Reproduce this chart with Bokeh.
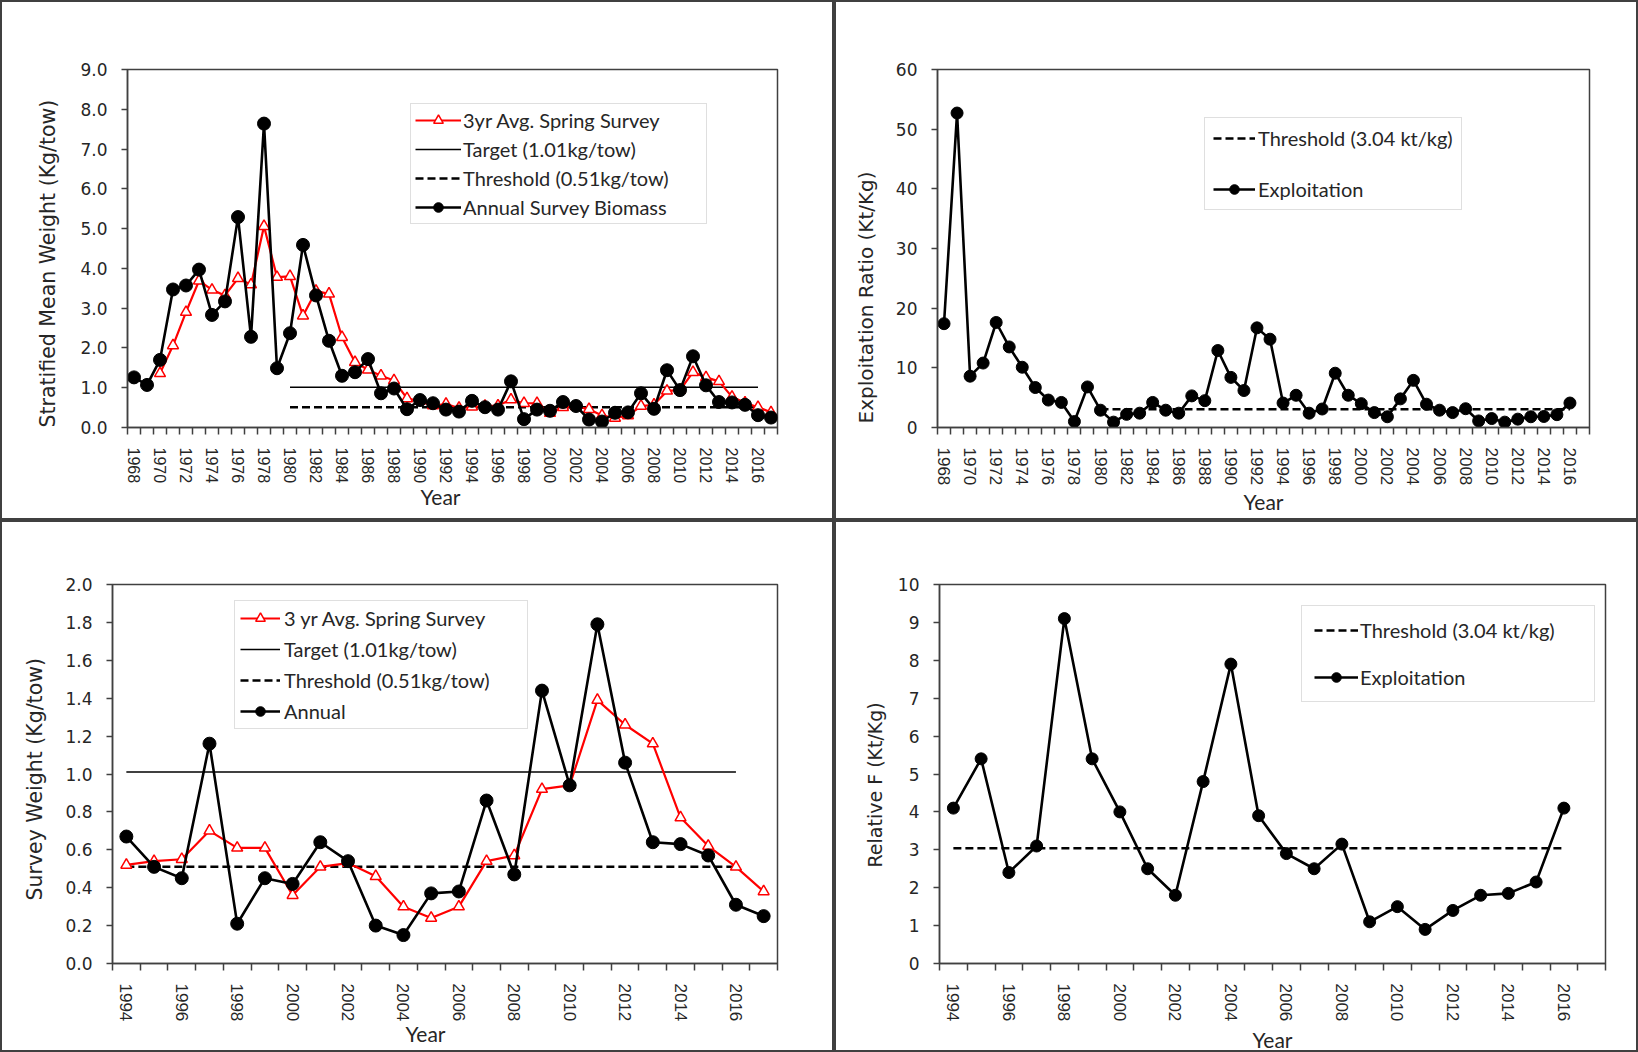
from bokeh.plotting import figure
from bokeh.layouts import row, column
from bokeh.models import Range1d, FixedTicker, NumeralTickFormatter, Legend, LegendItem, Title
from bokeh.embed import file_html
from bokeh.resources import INLINE

nan = float("nan")

# ---------------- data ----------------
survey_years = list(range(1968, 2018))
annual_biomass = [1.26, 1.07, 1.70, 3.47, 3.57, 3.97, 2.83, 3.17, 5.29, 2.28,
                  7.64, 1.49, 2.37, 4.59, 3.32, 2.18, 1.30, 1.39, 1.72, 0.86,
                  0.98, 0.46, 0.69, 0.61, 0.45, 0.40, 0.67, 0.51, 0.45, 1.16,
                  0.21, 0.45, 0.42, 0.64, 0.54, 0.20, 0.15, 0.37, 0.38, 0.86,
                  0.47, 1.44, 0.94, 1.79, 1.06, 0.64, 0.63, 0.57, 0.31, 0.25]
avg3_spring = [nan, nan, 1.36, 2.06, 2.90, 3.69, 3.46, 3.32, 3.75, 3.59,
               5.06, 3.78, 3.80, 2.81, 3.43, 3.36, 2.27, 1.64, 1.45, 1.30,
               1.18, 0.73, 0.67, 0.55, 0.59, 0.49, 0.52, 0.54, 0.55, 0.70,
               0.61, 0.61, 0.36, 0.51, 0.53, 0.46, 0.30, 0.24, 0.30, 0.54,
               0.57, 0.92, 0.94, 1.39, 1.26, 1.16, 0.77, 0.62, 0.51, 0.38]
exploit_years = list(range(1968, 2017))
exploitation = [17.4, 52.7, 8.6, 10.8, 17.6, 13.5, 10.1, 6.7, 4.6, 4.2,
                1.0, 6.8, 2.9, 0.9, 2.2, 2.4, 4.2, 2.9, 2.4, 5.3,
                4.5, 12.9, 8.4, 6.2, 16.7, 14.8, 4.1, 5.4, 2.4, 3.1,
                9.1, 5.4, 4.0, 2.5, 1.8, 4.8, 7.9, 3.9, 2.9, 2.5,
                3.15, 1.1, 1.5, 0.9, 1.4, 1.8, 1.85, 2.15, 4.1]
recent_start = 1994
target_kg = 1.01
threshold_kg = 0.51
threshold_f = 3.04
ref_years_long = [1980, 2016]
ref_years_recent = [1994, 2016]

i0 = survey_years.index(recent_start)
recent_years = survey_years[i0:]
annual_recent = annual_biomass[i0:]
avg3_recent = avg3_spring[i0:]
j0 = exploit_years.index(recent_start)
relf_years = exploit_years[j0:]
relative_f = exploitation[j0:]

INK = "#262626"
AX = "#404040"
RED = "#FF0000"


def base_fig(size, x_first, x_last, y_max, y_step, y_fmt, borders, xsize, ysize, xstand):
    bl, br, bt, bb = borders
    p = figure(width=size[0], height=size[1], output_backend="svg", toolbar_location=None,
               x_range=Range1d(x_first - 0.5, x_last + 0.5), y_range=Range1d(0, y_max),
               min_border_left=bl, min_border_right=br, min_border_top=bt,
               min_border_bottom=bb)
    p.styles = {"border": "2px solid #404040"}
    p.background_fill_color = "white"
    p.border_fill_color = "white"
    p.xgrid.grid_line_color = None
    p.ygrid.grid_line_color = None
    p.outline_line_color = AX
    p.outline_line_width = 1.5
    p.outline_line_alpha = 1

    xa = p.xaxis[0]
    xa.ticker = FixedTicker(ticks=list(range(x_first, 2017, 2)),
                            minor_ticks=[y - 0.5 for y in range(x_first, x_last + 2)])
    xa.major_label_orientation = "vertical"
    xa.major_tick_out = 0
    xa.major_tick_in = 0
    xa.minor_tick_out = 7
    xa.minor_tick_in = 0
    xa.minor_tick_line_color = AX
    xa.minor_tick_line_width = 1.5
    xa.axis_line_color = AX
    xa.axis_line_width = 1.5
    xa.major_label_standoff = xstand
    xa.major_label_text_font = "Liberation Sans"
    xa.major_label_text_font_size = xsize
    xa.major_label_text_color = INK

    ya = p.yaxis[0]
    n = int(round(y_max / y_step))
    ya.ticker = FixedTicker(ticks=[round(k * y_step, 3) for k in range(n + 1)])
    ya.formatter = NumeralTickFormatter(format=y_fmt)
    ya.major_tick_out = 6
    ya.major_tick_in = 0
    ya.minor_tick_line_color = None
    ya.major_tick_line_color = AX
    ya.major_tick_line_width = 1.5
    ya.axis_line_color = AX
    ya.axis_line_width = 1.5
    ya.major_label_standoff = 14
    ya.major_label_text_font = "DejaVu Sans"
    ya.major_label_text_font_size = ysize
    ya.major_label_text_color = INK
    return p


def titles(p, ytext, ysize, ystand, yoff, xstand, xalign, xoff):
    p.add_layout(Title(text=ytext, align="left", offset=yoff, standoff=ystand,
                       text_font="DejaVu Sans", text_font_size=ysize,
                       text_font_style="normal", text_color=INK), "left")
    p.add_layout(Title(text="Year", align=xalign, offset=xoff, standoff=xstand,
                       text_font="Lato", text_font_size="21px",
                       text_font_style="normal", text_color=INK), "below")


def legend(p, items, loc, padding, spacing, gw, gh, lw, standoff):
    lg = Legend(items=items, location=loc, padding=padding, spacing=spacing,
                glyph_width=gw, glyph_height=gh, label_height=gh, label_width=lw,
                label_standoff=standoff, margin=0,
                border_line_color="#BFBFBF", border_line_width=1,
                background_fill_color="white", background_fill_alpha=1,
                label_text_font="Lato", label_text_font_size="20px",
                label_text_color=INK)
    p.add_layout(lg)


def survey_panel(size, years, annual, avg3, ref_years, borders, ysize, xsize, xstand,
                 ytitle, ytsize, tpos, labels, leg_args, ymax, ystep):
    p = base_fig(size, years[0], years[-1], ymax, ystep, "0.0", borders, xsize, ysize,
                 xstand)
    tgt = p.line(ref_years, [target_kg] * len(ref_years), line_color="black",
                 line_width=1.5)
    thr = p.line(ref_years, [threshold_kg] * len(ref_years), line_color="black",
                 line_width=2.5, line_dash="8 4")
    rl = p.line(years, avg3, line_color=RED, line_width=2.2)
    rm = p.scatter(years, avg3, marker="triangle", size=11, fill_color="white",
                   line_color=RED, line_width=1.5)
    bl_ = p.line(years, annual, line_color="black", line_width=2.6)
    bm = p.scatter(years, annual, marker="circle", size=13, fill_color="black",
                   line_color="black")
    titles(p, ytitle, ytsize, *tpos)
    items = [LegendItem(label=labels[0], renderers=[rl, rm]),
             LegendItem(label=labels[1], renderers=[tgt]),
             LegendItem(label=labels[2], renderers=[thr]),
             LegendItem(label=labels[3], renderers=[bl_, bm])]
    legend(p, items, *leg_args)
    return p


def exploit_panel(size, years, vals, xmin, ref_years, ymax, ystep, borders, xsize,
                  ysize, xstand, ytitle, ytsize, tpos, leg_args, msize):
    p = base_fig(size, xmin, 2017, ymax, ystep, "0", borders, xsize, ysize, xstand)
    thr = p.line(ref_years, [threshold_f] * len(ref_years), line_color="black",
                 line_width=2.5, line_dash="8 4")
    ln = p.line(years, vals, line_color="black", line_width=2.6)
    mk = p.scatter(years, vals, marker="circle", size=msize, fill_color="black",
                   line_color="black")
    titles(p, ytitle, ytsize, *tpos)
    items = [LegendItem(label="Threshold (3.04 kt/kg)", renderers=[thr]),
             LegendItem(label="Exploitation", renderers=[ln, mk])]
    legend(p, items, *leg_args)
    return p


p1 = survey_panel((834, 520), survey_years, annual_biomass, avg3_spring, ref_years_long,
                  (125, 59, 67, 95), "17px", "16px", 13,
                  "Stratified Mean Weight (Kg/tow)", "20.5px",
                  (35, 0, -10, "left", 293),
                  ["3yr Avg. Spring Survey", "Target (1.01kg/tow)",
                   "Threshold (0.51kg/tow)", "Annual Survey Biomass"],
                  ((283, 203), 4, 5, 46, 24, 239, 2), 9.0, 1.0)

p2 = exploit_panel((804, 520), exploit_years, exploitation, 1968, ref_years_long, 60, 10,
                   (100, 51, 64, 93), "17px", "17px", 13,
                   "Exploitation Ratio (Kt/Kg)", "20px", (30, 4, -4, "center", 0),
                   ((267, 217), 8, 27, 42, 24, 190, 3), 12)

p3 = survey_panel((834, 532), recent_years, annual_recent, avg3_recent, ref_years_recent,
                  (110, 59, 62, 91), "17px", "17px", 13,
                  "Survey Weight (Kg/tow)", "20.5px", (32, 63, -12, "left", 293),
                  ["3 yr Avg. Spring Survey", "Target (1.01kg/tow)",
                   "Threshold (0.51kg/tow)", "Annual"],
                  ((122, 234), 5, 7, 40, 24, 238, 4), 2.0, 0.2)

p4 = exploit_panel((804, 532), relf_years, relative_f, 1994, ref_years_recent, 10, 1,
                   (103, 35, 62, 91), "17px", "17px", 13,
                   "Relative F (Kt/Kg)", "19px", (18, 96, 0, "center", 0),
                   ((362, 261), 12, 23, 44, 24, 222, 2), 12)

layout = column(row(p1, p2), row(p3, p4))
open("out.html", "w").write(file_html(layout, INLINE))
